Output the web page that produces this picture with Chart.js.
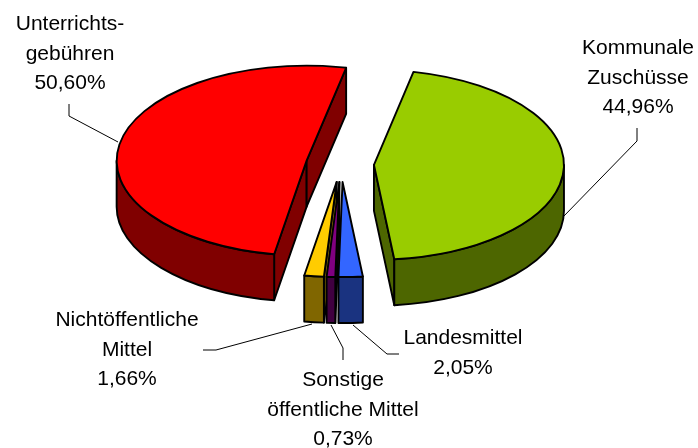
<!DOCTYPE html>
<html>
<head>
<meta charset="utf-8">
<style>html,body{margin:0;padding:0;background:#fff}canvas{display:block}</style>
<script src="https://cdn.jsdelivr.net/npm/chart.js@4/dist/chart.umd.min.js"></script>
</head>
<body>
<canvas id="c" width="698" height="448"></canvas>
<script>
const categories = ['Kommunale Zuschüsse', 'Landesmittel', 'Sonstige öffentliche Mittel', 'Nichtöffentliche Mittel', 'Unterrichtsgebühren'];
const shares = [44.96, 2.05, 0.73, 1.66, 50.60];
const labelLines = [['Kommunale', 'Zuschüsse'], ['Landesmittel'], ['Sonstige', 'öffentliche Mittel'], ['Nichtöffentliche', 'Mittel'], ['Unterrichts-', 'gebühren']];
const topColors = ['#99CC00', '#3366FF', '#800080', '#FFCC00', '#FF0000'];
const sideColors = ['#4D6600', '#1A3380', '#400040', '#806600', '#800000'];
const explode = [33, 36, 36, 36, 35];
const labelAnchors = [[638, 54], [463, 344], [343, 386], [127, 326], [70, 30]];
const leaders = [
  [[637, 128], [637, 141], [563, 217]],
  [[399, 354], [387, 354], [353, 325]],
  [[343, 360], [343, 348], [331, 325]],
  [[203, 350], [216, 350], [312, 324]],
  [[69, 104], [69, 116], [118, 142]]
];
const PIE = {cx: 341, cy: 164, squash: 0.5, depth: 46, radius: 190, rotation: 12};
const drawOrder = [4, 0, 3, 2, 1];

const pie3d = {
  id: 'pie3d',
  beforeDatasetDraw(chart, args) {
    const ctx = chart.ctx;
    const arcs = args.meta.data;
    const k = PIE.squash, d = PIE.depth;
    ctx.save();
    ctx.lineJoin = 'round';
    drawOrder.forEach(i => {
      const arc = arcs[i];
      const r = arc.outerRadius;
      let a = arc.startAngle, b = arc.endAngle;
      const span = b - a;
      a = Math.atan2(Math.sin(a), Math.cos(a));
      b = a + span;
      const mid = a + span / 2;
      const x0 = PIE.cx + Math.cos(mid) * explode[i];
      const y0 = PIE.cy + Math.sin(mid) * explode[i] * k;
      const px = t => x0 + Math.cos(t) * r;
      const py = t => y0 + Math.sin(t) * r * k;
      ctx.fillStyle = sideColors[i];
      ctx.strokeStyle = '#000';
      ctx.lineWidth = 1.9;
      const wall = t => {
        ctx.beginPath();
        ctx.moveTo(x0, y0);
        ctx.lineTo(px(t), py(t));
        ctx.lineTo(px(t), py(t) + d);
        ctx.lineTo(x0, y0 + d);
        ctx.closePath();
        ctx.fill();
        ctx.stroke();
      };
      if (Math.cos(a) < 0) wall(a);
      if (Math.cos(b) > 0) wall(b);
      const lo = Math.max(a, 0), hi = Math.min(b, Math.PI);
      if (hi > lo) {
        ctx.beginPath();
        ctx.ellipse(x0, y0, r, r * k, 0, lo, hi);
        ctx.ellipse(x0, y0 + d, r, r * k, 0, hi, lo, true);
        ctx.closePath();
        ctx.fill();
        ctx.stroke();
      }
      // top face drawn by the library's arc element, squashed into an ellipse
      ctx.save();
      ctx.translate(x0, y0);
      ctx.scale(1, k);
      ctx.translate(-arc.x, -arc.y);
      arc.draw(ctx);
      ctx.beginPath();
      ctx.moveTo(arc.x, arc.y);
      ctx.arc(arc.x, arc.y, r, arc.startAngle, arc.endAngle);
      ctx.closePath();
      ctx.restore();
      ctx.stroke();
    });
    ctx.restore();
    return false;
  },
  afterDraw(chart) {
    const ctx = chart.ctx;
    ctx.save();
    ctx.strokeStyle = '#000';
    ctx.lineWidth = 1;
    leaders.forEach(pts => {
      ctx.beginPath();
      pts.forEach((p, j) => j ? ctx.lineTo(p[0], p[1]) : ctx.moveTo(p[0], p[1]));
      ctx.stroke();
    });
    ctx.fillStyle = '#000';
    ctx.font = '21px "Liberation Sans", Arial, sans-serif';
    ctx.textAlign = 'center';
    ctx.textBaseline = 'alphabetic';
    labelLines.forEach((lines, i) => {
      const text = lines.concat(shares[i].toFixed(2).replace('.', ',') + '%');
      text.forEach((t, j) => ctx.fillText(t, labelAnchors[i][0], labelAnchors[i][1] + j * 29.5));
    });
    ctx.restore();
  }
};

new Chart(document.getElementById('c'), {
  type: 'pie',
  plugins: [pie3d],
  data: {
    labels: categories,
    datasets: [{data: shares, backgroundColor: topColors, borderWidth: 0}]
  },
  options: {
    responsive: false,
    animation: false,
    events: [],
    rotation: PIE.rotation,
    radius: PIE.radius,
    plugins: {legend: {display: false}, tooltip: {enabled: false}}
  }
});
</script>
</body>
</html>
